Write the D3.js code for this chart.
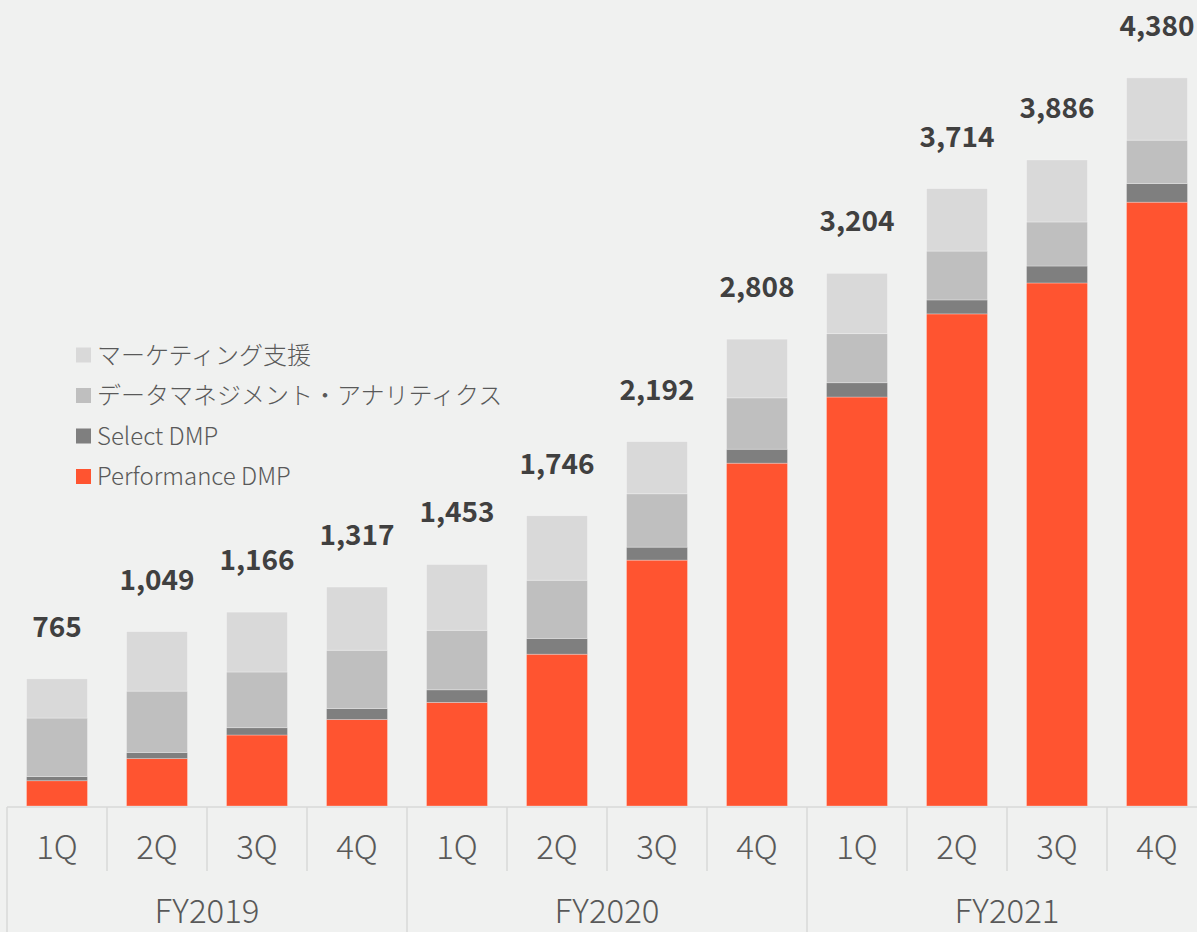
<!DOCTYPE html>
<html>
<head>
<meta charset="utf-8">
<script src="https://cdn.jsdelivr.net/npm/d3@7"></script>
<style>
  html, body { margin: 0; padding: 0; background: #f0f1f0; }
  svg { display: block; font-family: "Noto Sans CJK JP", "Noto Sans", sans-serif; }
</style>
</head>
<body>
<svg width="1197" height="932"></svg>
<script>
// 四半期・年度
const quarters = ["1Q", "2Q", "3Q", "4Q", "1Q", "2Q", "3Q", "4Q", "1Q", "2Q", "3Q", "4Q"];
const years = ["FY2019", "FY2020", "FY2021"];

// 系列の値（下から積み上げ）
const performanceDMP = [152, 285, 427, 520, 623, 913, 1479, 2062, 2460, 2960, 3146, 3632];
const selectDMP      = [25, 37, 44, 66, 76, 95, 78, 84, 86, 84, 102, 112];
const dataMgmt       = [352, 369, 335, 351, 358, 350, 321, 309, 295, 294, 265, 261];
const marketing      = [236, 358, 360, 380, 396, 388, 314, 353, 363, 376, 373, 375];

// 合計ラベル
const totals = [765, 1049, 1166, 1317, 1453, 1746, 2192, 2808, 3204, 3714, 3886, 4380];

const seriesNames = ["Performance DMP", "Select DMP", "データマネジメント・アナリティクス", "マーケティング支援"];
const seriesColors = ["#ff5430", "#7f7f7f", "#bfbfbf", "#d9d9d9"];

let svg = d3.select("svg");

const area = { left: 7, right: 1207, top: 8, bottom: 806 };

// テーブルを組み立てる
let keys = quarters.map((q, i) => years[Math.floor(i / 4)] + "-" + q);
let table = keys.map((k, i) => ({
    key: k,
    s0: performanceDMP[i],
    s1: selectDMP[i],
    s2: dataMgmt[i],
    s3: marketing[i]
}));

let stack = d3.stack().keys(["s0", "s1", "s2", "s3"])(table);

let scX = d3.scaleBand()
    .domain(keys)
    .range([area.left, area.right])
    .paddingInner(0.39)
    .paddingOuter(0.195);

let scY = d3.scaleLinear()
    .domain([0, 4800])
    .range([area.bottom, area.top]);

// 積み上げ棒
svg.append("g")
    .selectAll("g")
    .data(stack)
    .enter()
    .append("g")
    .attr("fill", (d, i) => seriesColors[i])
    .selectAll("rect")
    .data(d => d)
    .enter()
    .append("rect")
    .attr("x", d => scX(d.data.key))
    .attr("width", scX.bandwidth())
    .attr("y", d => scY(d[1]))
    .attr("height", d => scY(d[0]) - scY(d[1]))
    .attr("stroke", "rgba(255,255,255,0.35)")
    .attr("stroke-width", 0.8);

// 合計値ラベル
svg.append("g")
    .selectAll("text")
    .data(totals)
    .enter()
    .append("text")
    .attr("x", (d, i) => scX(keys[i]) + scX.bandwidth() / 2)
    .attr("y", d => scY(d) - 42)
    .attr("text-anchor", "middle")
    .attr("font-size", 28)
    .attr("font-weight", 600)
    .attr("fill", "#404040")
    .text(d => d3.format(",")(d));

// 横軸（2段カテゴリ）
const step = scX.step();
const edge0 = scX(keys[0]) - scX.paddingOuter() * step;
let axis = svg.append("g");

axis.append("line")
    .attr("x1", area.left)
    .attr("x2", area.right)
    .attr("y1", area.bottom + 1)
    .attr("y2", area.bottom + 1)
    .attr("stroke", "#d9d9d9")
    .attr("stroke-width", 1.5);

axis.selectAll(".sep")
    .data(d3.range(keys.length + 1))
    .enter()
    .append("line")
    .attr("x1", i => edge0 + i * step)
    .attr("x2", i => edge0 + i * step)
    .attr("y1", area.bottom + 1)
    .attr("y2", i => i % 4 == 0 ? 932 : 871)
    .attr("stroke", "#d9d9d9")
    .attr("stroke-width", 1.5);

axis.selectAll(".q")
    .data(quarters)
    .enter()
    .append("text")
    .attr("x", (d, i) => scX(keys[i]) + scX.bandwidth() / 2)
    .attr("y", 859)
    .attr("text-anchor", "middle")
    .attr("font-size", 33)
    .attr("font-weight", 300)
    .attr("fill", "#595959")
    .text(d => d);

axis.selectAll(".fy")
    .data(years)
    .enter()
    .append("text")
    .attr("x", (d, i) => edge0 + (i * 4 + 2) * step)
    .attr("y", 923)
    .attr("text-anchor", "middle")
    .attr("font-size", 33)
    .attr("font-weight", 300)
    .attr("fill", "#595959")
    .text(d => d);

// 凡例（上から逆順）
let legend = svg.append("g").attr("transform", "translate(76, 355)");
let legendItems = d3.range(seriesNames.length).reverse();

let li = legend.selectAll("g")
    .data(legendItems)
    .enter()
    .append("g")
    .attr("transform", (d, i) => `translate(0, ${i * 40.5})`);

li.append("rect")
    .attr("x", 0)
    .attr("y", -7.5)
    .attr("width", 15)
    .attr("height", 15)
    .attr("fill", d => seriesColors[d]);

li.append("text")
    .attr("x", 21)
    .attr("y", 0)
    .attr("dy", "0.36em")
    .attr("font-size", 24)
    .attr("font-weight", 300)
    .attr("fill", "#595959")
    .text(d => seriesNames[d]);
</script>
</body>
</html>
